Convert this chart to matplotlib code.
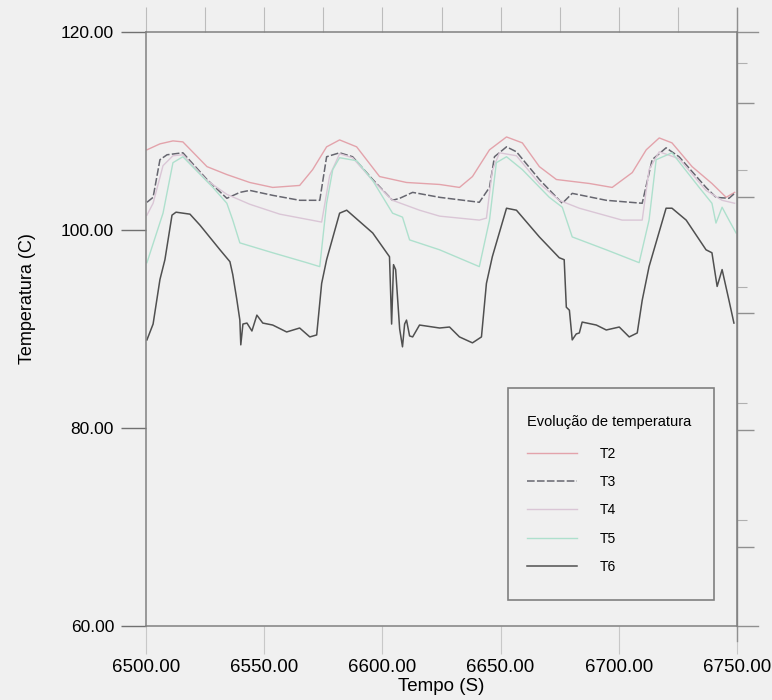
import matplotlib
matplotlib.use("Agg")
import matplotlib.pyplot as plt
from matplotlib.patches import Rectangle

plt.rcParams['font.family'] = ['Liberation Sans', 'DejaVu Sans']

# ---- data ----
t_T2 = [6500.4, 6505.9, 6511.4, 6515.6, 6525.8, 6534.2, 6543.9, 6553.6, 6565.0, 6570.5,
        6576.4, 6581.9, 6589.1, 6598.8, 6610.2, 6624.2, 6632.6, 6638.1, 6645.3, 6652.5,
        6659.2, 6666.4, 6673.6, 6687.5, 6697.2, 6705.7, 6711.6, 6717.1, 6722.5, 6731.0,
        6739.4, 6745.4, 6749.0]
T2 = [108.1, 108.7, 109.0, 108.9, 106.4, 105.6, 104.8, 104.3, 104.5, 106.1,
      108.4, 109.1, 108.4, 105.4, 104.8, 104.6, 104.3, 105.4, 108.1, 109.4,
      108.8, 106.4, 105.1, 104.7, 104.3, 105.8, 108.1, 109.3, 108.8, 106.4,
      104.7, 103.3, 103.8]

t_T3 = [6500.4, 6503.0, 6505.9, 6508.9, 6515.6, 6525.8, 6534.2, 6539.7, 6543.9, 6553.6,
        6565.0, 6573.5, 6576.4, 6581.9, 6587.4, 6595.9, 6604.3, 6607.3, 6612.8, 6624.2,
        6641.0, 6645.3, 6647.4, 6652.5, 6656.7, 6666.4, 6676.1, 6680.3, 6694.7, 6709.9,
        6714.1, 6720.0, 6725.5, 6736.9, 6741.1, 6746.6, 6749.0]
T3 = [102.8, 103.3, 107.1, 107.6, 107.8, 105.1, 103.2, 103.8, 104.0, 103.5,
      103.0, 103.0, 107.4, 107.8, 107.4, 105.1, 103.0, 103.2, 103.8, 103.3,
      102.8, 104.3, 107.4, 108.4, 107.9, 105.1, 102.7, 103.7, 103.0, 102.7,
      107.1, 108.3, 107.4, 104.3, 103.3, 103.2, 103.7]

t_T4 = [6500.4, 6503.0, 6507.2, 6511.4, 6515.6, 6525.8, 6534.2, 6543.9, 6556.6, 6574.3,
        6577.7, 6581.9, 6587.4, 6595.9, 6604.3, 6615.7, 6624.2, 6641.0, 6644.0, 6646.5,
        6649.5, 6656.7, 6666.4, 6674.8, 6683.3, 6701.4, 6709.9, 6712.8, 6717.1, 6725.5,
        6736.9, 6743.7, 6749.0]
T4 = [101.5, 102.7, 106.5, 107.5, 107.6, 105.0, 103.6, 102.6, 101.6, 100.8,
      105.5, 107.7, 107.3, 105.0, 103.0, 102.0, 101.4, 101.0, 101.2, 106.0,
      107.8, 107.5, 104.7, 103.0, 102.2, 101.0, 101.0, 106.1, 107.9, 107.2,
      104.0, 103.0, 102.7]

t_T5 = [6500.4, 6507.2, 6511.4, 6515.6, 6528.3, 6534.2, 6536.7, 6539.7, 6553.6, 6568.0,
        6573.5, 6576.4, 6579.0, 6581.9, 6589.1, 6595.9, 6604.3, 6608.5, 6611.5, 6624.2,
        6641.0, 6645.3, 6648.2, 6652.5, 6659.2, 6670.6, 6676.1, 6680.3, 6694.7, 6708.6,
        6712.8, 6715.8, 6722.5, 6734.0, 6739.4, 6741.1, 6743.7, 6746.6, 6749.6]
T5 = [96.7, 101.7, 106.8, 107.4, 104.3, 102.7, 101.0, 98.7, 97.7, 96.7,
      96.3, 102.7, 106.1, 107.3, 107.0, 105.0, 101.7, 101.3, 99.0, 98.0,
      96.3, 101.0, 106.8, 107.4, 106.1, 103.3, 102.3, 99.3, 98.0, 96.7,
      101.0, 107.1, 107.8, 104.3, 102.7, 100.7, 102.3, 101.0, 99.7]

t_T6 = [6500.4, 6503.0, 6505.9, 6508.0, 6511.0, 6512.7, 6518.6, 6522.8, 6531.3, 6535.5,
        6536.7, 6538.4, 6539.7, 6540.1, 6541.0, 6542.7, 6544.8, 6546.9, 6549.4, 6553.6,
        6559.5, 6565.0, 6569.3, 6572.2, 6574.3, 6576.4, 6581.9, 6584.9, 6595.9, 6603.0,
        6603.9, 6604.7, 6605.6, 6607.3, 6608.5, 6609.4, 6610.2, 6611.5, 6612.8, 6615.7,
        6624.2, 6628.4, 6632.6, 6638.1, 6641.9, 6644.0, 6646.5, 6652.5, 6656.7, 6666.4,
        6674.8, 6676.9, 6677.8, 6679.1, 6680.3, 6682.0, 6683.3, 6684.5, 6690.5, 6694.7,
        6700.2, 6704.4, 6707.8, 6709.9, 6712.8, 6720.0, 6722.5, 6728.5, 6736.9, 6739.4,
        6741.6, 6743.7, 6746.6, 6748.7]
T6 = [88.9, 90.5, 95.0, 97.0, 101.5, 101.8, 101.6, 100.5, 98.0, 96.8,
      95.5, 93.0, 90.9, 88.4, 90.5, 90.6, 89.8, 91.4, 90.6, 90.4,
      89.7, 90.1, 89.2, 89.4, 94.6, 97.0, 101.7, 102.0, 99.7, 97.3,
      90.5, 96.5, 96.0, 90.0, 88.2, 90.5, 90.9, 89.3, 89.2, 90.4,
      90.1, 90.2, 89.2, 88.6, 89.2, 94.6, 97.3, 102.2, 102.0, 99.3,
      97.2, 97.0, 92.2, 91.9, 88.9, 89.5, 89.6, 90.7, 90.4, 89.9,
      90.2, 89.2, 89.6, 92.9, 96.3, 102.2, 102.2, 101.0, 98.0, 97.7,
      94.3, 96.0, 92.9, 90.6]

labels = ['T2', 'T3', 'T4', 'T5', 'T6']
x_ticks = [6500, 6550, 6600, 6650, 6700, 6750]
y_ticks = [60, 80, 100, 120]

# ---- figure ----
bg = '#f0f0f0'
fig = plt.figure(figsize=(7.72, 7.00), dpi=100, facecolor=bg)
ax = fig.add_axes([146/772, 1 - 626/700, (737-146)/772, (626-32)/700], facecolor=bg)

ax.plot(t_T2, T2, color='#e3a3ab', lw=1.0, label=labels[0])
ax.plot(t_T3, T3, color='#66666f', lw=1.1, ls=(0, (5, 1.5)), label=labels[1])
ax.plot(t_T4, T4, color='#dac6d6', lw=1.0, label=labels[2])
ax.plot(t_T5, T5, color='#aee0cd', lw=1.0, label=labels[3])
ax.plot(t_T6, T6, color='#505050', lw=1.1, label=labels[4])

ax.set_xlim(6500, 6750)
ax.set_ylim(60, 120)
ax.set_xticks(x_ticks)
ax.set_xticklabels([f'{v:.2f}' for v in x_ticks])
ax.set_yticks(y_ticks)
ax.set_yticklabels([f'{v:.2f}' for v in y_ticks])
ax.tick_params(axis='y', direction='out', length=18, width=1.0, color='#707070',
               labelsize=12.5, pad=5)
ax.tick_params(axis='x', direction='out', length=20, width=0.8, color='#c8c8c8',
               labelsize=13.5, pad=4)
for s in ax.spines.values():
    s.set_color('#808080')
    s.set_linewidth(1.1)

ax.set_xlabel('Tempo (S)', fontsize=13.5, labelpad=1)
ax.set_ylabel('Temperatura (C)', fontsize=13)
ax.yaxis.set_label_coords(-0.186, 0.552)

# spine extensions past the right edge, as in the scanned original
for yy in (0.0, 1.0):
    ax.plot([1.0, 1.035], [yy, yy], transform=ax.transAxes, color='#909090',
            lw=1.0, clip_on=False)
ax.plot([1.0, 1.0], [-0.025, 1.04], transform=ax.transAxes, color='#909090',
        lw=1.0, clip_on=False)

# top and right decorative ticks
top = ax.secondary_xaxis('top')
top.set_xticks([6500 + 25*i for i in range(11)])
top.tick_params(direction='out', length=18, width=0.8, color='#bcbcbc', labeltop=False)
top.spines['top'].set_visible(False)

right = ax.secondary_yaxis('right')
right.set_yticks([112.8, 103.3, 91.6, 79.8, 68.0])
right.set_yticks([116.9, 106.1, 94.2, 82.5, 70.7], minor=True)
right.tick_params(which='major', direction='out', length=12, width=1.0, color='#909090', labelright=False)
right.tick_params(which='minor', direction='out', length=7, width=0.8, color='#b0b0b0', labelright=False)
right.spines['right'].set_visible(False)

# legend
ax.add_patch(Rectangle((0.6125, 0.0438), 0.349, 0.357, transform=ax.transAxes,
                       fill=False, edgecolor='#808080', lw=1.2, zorder=4))
leg = ax.legend(loc='upper left', bbox_to_anchor=(0.645, 0.356), frameon=False,
                title='Evolução de temperatura', title_fontsize=10.5, fontsize=10,
                alignment='left', borderpad=0, borderaxespad=0,
                handlelength=3.6, handletextpad=1.6, labelspacing=1.03)
leg._legend_box.sep = 13

fig.savefig('out.png', dpi=100, facecolor=bg)
